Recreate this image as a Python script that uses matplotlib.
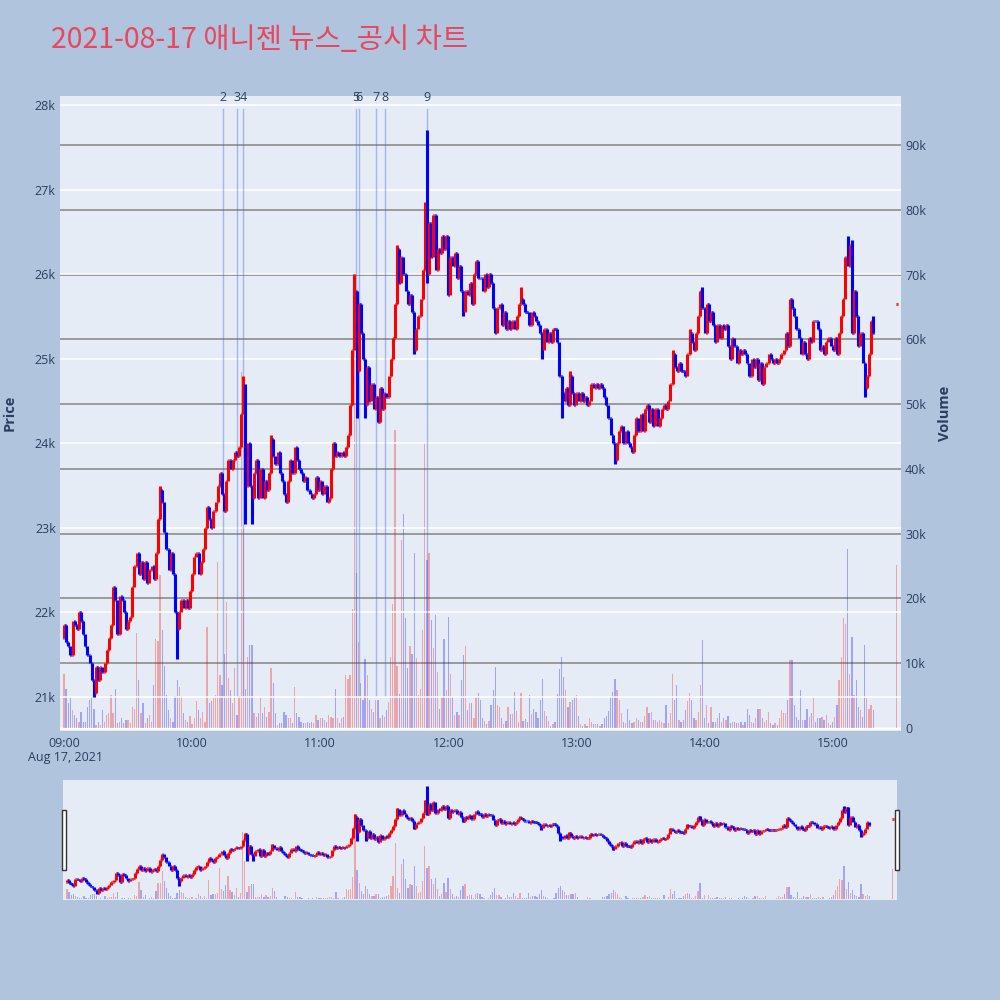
import matplotlib
matplotlib.use("Agg")
import matplotlib.pyplot as plt
from matplotlib.collections import LineCollection
from matplotlib.patches import Rectangle
from matplotlib.transforms import blended_transform_factory

# one close per minute, 09:00 .. 15:19
closes = [
    21850, 21650, 21600, 21500, 21900, 21850, 21800, 22000, 21900, 21750,
    21600, 21500, 21400, 21200, 21050, 21350, 21200, 21350, 21300, 21400,
    21550, 21700, 21850, 22300, 22150, 21750, 22200, 22150, 22000, 21800,
    21900, 21950, 22300, 22550, 22700, 22450, 22600, 22400, 22600, 22350,
    22500, 22550, 22400, 22700, 23100, 23450, 23300, 22950, 22750, 22500,
    22700, 22450, 22000, 21800, 22000, 22150, 22050, 22150, 22050, 22250,
    22450, 22650, 22700, 22450, 22600, 22750, 23000, 23250, 23100, 23000,
    23200, 23300, 23500, 23650, 23400, 23200, 23550, 23800, 23700, 23800,
    23900, 23850, 23950, 24350, 24700, 23500, 24000, 23500, 23350, 23650,
    23800, 23350, 23700, 23350, 23550, 23450, 23650, 24050, 23850, 23750,
    23900, 23650, 23550, 23400, 23300, 23550, 23800, 23650, 23950, 23800,
    23700, 23650, 23550, 23600, 23450, 23400, 23350, 23400, 23600, 23450,
    23550, 23400, 23500, 23300, 23350, 23700, 24000, 23850, 23900, 23850,
    23900, 23850, 23950, 24100, 24450, 25100, 25800, 24850, 25650, 25300,
    25000, 24450, 24900, 24500, 24700, 24400, 24550, 24250, 24650, 24400,
    24600, 24550, 24800, 25000, 25250, 25650, 26300, 25900, 26200, 26000,
    25800, 25650, 25750, 25550, 25100, 25350, 25500, 25700, 26050, 26800,
    26000, 26600, 26200, 26700, 26050, 26300, 26250, 26450, 26300, 26450,
    25750, 26200, 26100, 26250, 25950, 26100, 25800, 25550, 25800, 25750,
    25900, 25650, 26000, 26150, 25950, 25950, 25800, 26000, 25850, 26000,
    25900, 25600, 25300, 25600, 25650, 25400, 25550, 25350, 25450, 25350,
    25450, 25350, 25500, 25650, 25700, 25650, 25550, 25550, 25400, 25550,
    25500, 25450, 25400, 25300, 25100, 25350, 25200, 25300, 25200, 25350,
    25350, 25200, 24800, 24600, 24500, 24650, 24450, 24800, 24600, 24450,
    24600, 24500, 24600, 24500, 24550, 24450, 24500, 24700, 24650, 24700,
    24650, 24700, 24650, 24550, 24450, 24300, 24100, 24000, 23800, 24000,
    24150, 24200, 24000, 24150, 24000, 23950, 23900, 24100, 24300, 24150,
    24350, 24150, 24400, 24450, 24250, 24400, 24200, 24400, 24200, 24300,
    24400, 24450, 24400, 24500, 24700, 25050, 24900, 24850, 24950, 24850,
    24850, 24800, 25050, 25300, 25200, 25100, 25300, 25500, 25800, 25600,
    25300, 25650, 25450, 25550, 25400, 25200, 25400, 25250, 25400, 25350,
    25400, 25150, 25000, 25250, 25150, 24950, 25100, 25050, 25100, 25050,
    24950, 24800, 25000, 24900, 25000, 24750, 24950, 24700, 24900, 24950,
    25050, 25000, 24950, 25000, 24950, 25000, 25050, 25100, 25300, 25150,
    25700, 25600, 25500, 25350, 25250, 25050, 25200, 25050, 25000, 25250,
    25200, 25450, 25450, 25350, 25100, 25150, 25050, 25200, 25250, 25150,
    25100, 25250, 25050, 25300, 25500, 25700, 26200, 26100, 26350, 25300,
    25800, 25500, 25150, 25300, 24950, 24650, 24800, 25050, 25450, 25300,
]

# volume per minute, thousands of shares
volumes = [
    8.3, 6.1, 3.8, 4.7, 2.8, 2.0, 1.5, 1.0, 2.5, 1.0,
    1.0, 3.3, 4.3, 4.8, 3.0, 0.5, 1.0, 0.4, 2.8, 1.0,
    2.0, 2.3, 5.1, 2.3, 6.1, 0.7, 1.0, 1.5, 0.7, 1.2,
    1.2, 0.7, 3.3, 3.0, 14.6, 7.4, 2.3, 3.8, 0.7, 1.5,
    2.0, 1.0, 6.6, 13.8, 13.5, 23.6, 15.1, 9.5, 5.1, 2.8,
    1.5, 1.0, 4.9, 7.4, 6.3, 4.9, 2.3, 1.2, 0.9, 1.8,
    0.6, 1.5, 4.1, 2.8, 1.5, 2.5, 0.9, 15.6, 3.8, 4.1,
    4.6, 5.1, 25.7, 8.2, 6.6, 11.5, 19.5, 7.7, 5.9, 3.8,
    9.2, 2.0, 4.9, 55.0, 31.0, 6.1, 11.0, 12.8, 12.8, 2.3,
    1.7, 2.3, 4.8, 2.3, 3.3, 1.7, 2.5, 9.2, 6.9, 2.3,
    0.5, 0.7, 0.7, 2.5, 2.0, 1.5, 1.5, 0.7, 6.3, 2.3,
    1.7, 1.0, 0.7, 0.7, 1.0, 0.7, 1.0, 0.7, 2.0, 1.3,
    1.5, 1.5, 1.3, 1.0, 2.0, 1.7, 1.5, 6.1, 1.5, 0.7,
    1.5, 1.7, 8.2, 7.5, 8.2, 18.4, 70.0, 24.0, 13.3, 6.9,
    4.3, 10.7, 8.2, 4.3, 3.0, 2.4, 4.3, 4.3, 1.5, 2.0,
    1.7, 2.8, 4.0, 11.0, 19.2, 46.0, 9.5, 5.3, 29.0, 33.0,
    17.0, 9.2, 12.6, 11.5, 27.0, 10.8, 5.1, 6.1, 15.1, 44.0,
    26.0, 27.0, 16.7, 12.3, 17.4, 8.7, 3.0, 4.8, 13.8, 5.9,
    17.2, 8.4, 4.8, 2.0, 2.5, 2.0, 7.4, 11.3, 12.6, 2.8,
    3.8, 3.8, 1.5, 4.8, 5.4, 4.3, 1.6, 1.1, 0.6, 1.1,
    3.5, 5.9, 9.4, 3.5, 3.3, 1.6, 0.6, 1.1, 3.3, 2.2,
    2.2, 5.6, 2.7, 0.9, 5.4, 1.1, 1.4, 0.9, 5.1, 2.2,
    3.0, 2.4, 1.6, 4.3, 7.5, 2.7, 1.9, 1.1, 0.3, 0.6,
    0.9, 5.3, 9.1, 11.0, 7.8, 5.9, 3.3, 4.0, 4.3, 4.8,
    5.1, 1.9, 0.6, 0.3, 0.6, 0.3, 1.6, 0.9, 0.6, 0.6,
    0.6, 0.3, 0.6, 1.6, 1.9, 2.7, 4.8, 5.6, 7.5, 5.9,
    4.3, 2.3, 1.0, 0.7, 3.0, 1.2, 0.7, 1.0, 1.5, 1.2,
    1.0, 1.0, 1.8, 3.3, 2.3, 2.5, 1.2, 1.2, 1.0, 1.2,
    1.0, 0.7, 3.6, 0.7, 2.3, 8.4, 4.3, 6.6, 1.2, 1.0,
    1.2, 2.8, 4.1, 5.4, 4.3, 1.5, 1.2, 2.5, 6.6, 13.6,
    1.5, 3.5, 0.7, 3.3, 1.0, 1.0, 1.5, 2.3, 1.0, 1.5,
    1.2, 1.8, 0.7, 1.0, 1.0, 0.7, 0.7, 1.0, 0.5, 1.0,
    3.0, 2.0, 1.0, 0.7, 1.5, 3.0, 3.0, 1.5, 1.0, 1.2,
    2.5, 0.7, 0.5, 0.7, 0.5, 1.5, 2.8, 2.3, 2.3, 4.3,
    10.5, 10.5, 3.5, 1.7, 1.2, 5.9, 1.2, 1.2, 3.0, 1.7,
    2.3, 4.6, 1.0, 1.5, 1.5, 1.7, 1.2, 2.0, 0.7, 0.5,
    1.0, 1.7, 3.6, 7.4, 11.0, 17.0, 16.0, 27.7, 8.4, 14.1,
    5.1, 7.4, 3.3, 2.8, 1.7, 12.8, 4.6, 3.0, 3.5, 2.8,
]

first_open = 21700
# wicks that stick out past open/close (minute index -> price)
wick_highs = {45: 23500, 84: 24800, 97: 24100, 136: 26000, 156: 26350,
              169: 26850, 170: 27700, 214: 25850, 237: 24850, 285: 25100,
              293: 25350, 299: 25850, 367: 26450, 369: 26400, 379: 25500}
wick_lows = {14: 21000, 53: 21450, 85: 23050, 88: 23050, 137: 24300,
             141: 24300, 164: 25050, 170: 25900, 187: 25500, 224: 25000,
             233: 24300, 258: 23750, 375: 24550}

# 15:30 closing auction
auction_minute = 390
auction_price = 25650
auction_volume = 25.2

# news / disclosure times (minutes after 09:00)
news_minutes = [74.4, 81.2, 83.8, 136.7, 138.3, 146.1, 150.5, 170.0]
news_labels = ["2", "3", "4", "5", "6", "7", "8", "9"]

hour_ticks = [0, 60, 120, 180, 240, 300, 360]
hour_labels = ["09:00", "10:00", "11:00", "12:00", "13:00", "14:00", "15:00"]
price_ticks = [21000, 22000, 23000, 24000, 25000, 26000, 27000, 28000]
volume_ticks = [0, 10, 20, 30, 40, 50, 60, 70, 80, 90]

UP = "#ff0000"
DOWN = "#0000ff"
BG = "#b0c4de"
PLOT_BG = "#e5ecf6"
TXT = "#2a3f5f"

plt.rcParams["font.family"] = ["Open Sans", "DejaVu Sans"]

# build the bars
minutes = list(range(len(closes))) + [auction_minute]
opens = [first_open] + closes[:-1] + [auction_price]
cls = closes + [auction_price]
highs, lows = [], []
for i, (o, c) in enumerate(zip(opens, cls)):
    highs.append(max(o, c, wick_highs.get(i, 0)))
    lows.append(min(o, c, wick_lows.get(i, 10 ** 9)))
colors = [UP if c > o else DOWN for o, c in zip(opens, cls)]
colors[-1] = UP
vols = volumes + [auction_volume]

XLIM = (-1.875, 392.0)
PRICE_LIM = (20598, 28106)
VOL_LIM = (-0.46, 97.56)


def draw_ohlc(ax, lw, tick=0.4):
    segs, cols = [], []
    for m, o, h, l, c, col in zip(minutes, opens, highs, lows, cls, colors):
        segs.append([(m, l), (m, h)])
        segs.append([(m - tick, o), (m, o)])
        segs.append([(m, c), (m + tick, c)])
        cols += [col] * 3
    ax.add_collection(LineCollection(segs, colors=cols, linewidths=lw,
                                     capstyle="butt", zorder=5))


def draw_volume(ax):
    ax.bar(minutes, vols, width=0.6, color=colors, alpha=0.3, linewidth=0, zorder=2)


fig = plt.figure(figsize=(10, 10), dpi=100, facecolor=BG)

# main chart: volume axis underneath, price twin on top
ax_v = fig.add_axes([0.06, 0.269, 0.841, 0.635])
ax_v.set_facecolor(PLOT_BG)
ax_p = ax_v.twinx()
ax_v.yaxis.tick_right()
ax_p.yaxis.tick_left()

ax_v.set_xlim(XLIM)
ax_v.set_ylim(VOL_LIM)
ax_p.set_ylim(PRICE_LIM)

ax_v.set_yticks(volume_ticks, ["0"] + [f"{v}k" for v in volume_ticks[1:]])
ax_p.set_yticks(price_ticks, [f"{p // 1000}k" for p in price_ticks])
ax_v.set_xticks(hour_ticks, hour_labels)

ax_v.yaxis.grid(True, color="#8c8c8c", lw=1.2)
ax_v.set_axisbelow(True)
ax_v.axhline(0, color="white", lw=2, zorder=1.5)
ax_p.yaxis.grid(True, color="white", lw=1.1)

for a in (ax_v, ax_p):
    for s in a.spines.values():
        s.set_visible(False)
    a.tick_params(length=0, labelsize=9, colors=TXT, pad=3)
ax_v.tick_params(axis="x", pad=4)

draw_volume(ax_v)

trans = blended_transform_factory(ax_p.transData, ax_p.transAxes)
for m, lab in zip(news_minutes, news_labels):
    ax_p.axvline(m, ymin=0.057, ymax=0.98, color="royalblue", alpha=0.4, lw=1, zorder=3)
    ax_p.text(m, 0.998, lab, transform=trans, ha="center", va="center",
              fontsize=9, color=TXT)

draw_ohlc(ax_p, 2.2)

fig.text(0.065, 0.243, "Aug 17, 2021", ha="center", va="center", fontsize=9, color=TXT)
fig.text(0.010, 0.587, "Price", rotation=90, ha="center", va="center",
         fontsize=10.5, fontweight="bold", color=TXT)
fig.text(0.945, 0.587, "Volume", rotation=90, ha="center", va="center",
         fontsize=10.5, fontweight="bold", color=TXT)

fig.text(0.051, 0.960, "2021-08-17 애니젠 뉴스_공시 차트", ha="left", va="center",
         fontsize=20.5, color="#e8475f", family=["Noto Sans CJK KR", "DejaVu Sans"])

# range slider
ax_sv = fig.add_axes([0.063, 0.10, 0.834, 0.12])
ax_sv.set_facecolor(PLOT_BG)
ax_sp = ax_sv.twinx()
ax_sv.set_xlim(XLIM)
ax_sv.set_ylim(VOL_LIM)
ax_sp.set_ylim(PRICE_LIM)
for a in (ax_sv, ax_sp):
    a.set_xticks([])
    a.set_yticks([])
    for s in a.spines.values():
        s.set_visible(False)
draw_volume(ax_sv)
draw_ohlc(ax_sp, 2.2)

for hx in (0.0617, 0.895):
    fig.add_artist(Rectangle((hx, 0.13), 0.004, 0.06, transform=fig.transFigure,
                             facecolor="white", edgecolor="#333333", lw=1))

fig.savefig("out.png", dpi=100, facecolor=BG)
